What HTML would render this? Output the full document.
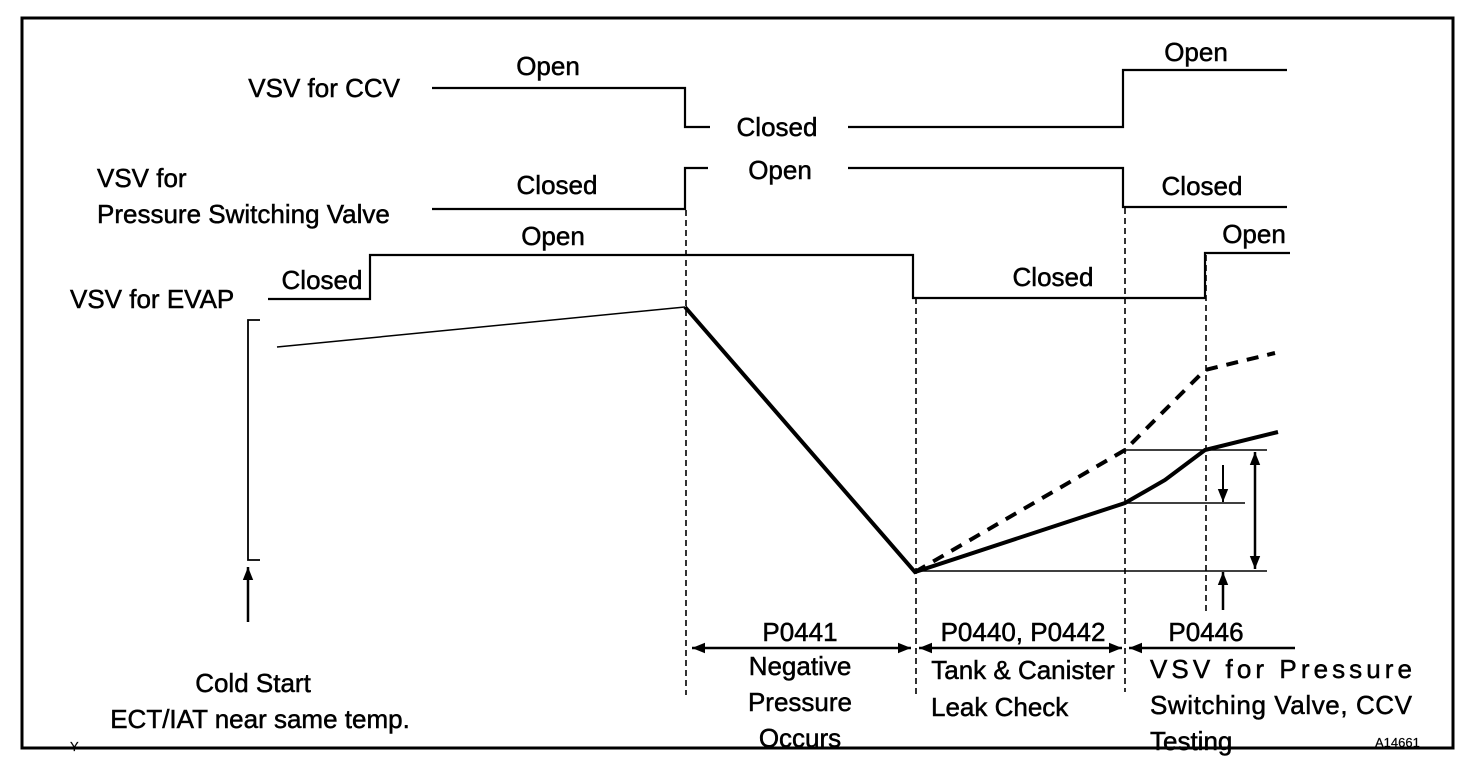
<!DOCTYPE html>
<html><head><meta charset="utf-8"><style>
html,body{margin:0;padding:0;background:#fff}
svg{display:block}
text{font-family:"Liberation Sans",Arial,sans-serif;font-size:26px;fill:#000;stroke:#000;stroke-width:0.5}
</style></head><body>
<svg width="1472" height="766" viewBox="0 0 1472 766" xmlns="http://www.w3.org/2000/svg">
<defs>
<marker id="ahb" viewBox="0 0 10 10" refX="10" refY="5" markerWidth="18" markerHeight="13" markerUnits="userSpaceOnUse" orient="auto-start-reverse"><path d="M0,1 L10,5 L0,9 z" fill="#000"/></marker>
</defs>
<rect x="22" y="18" width="1431" height="730" fill="none" stroke="#000" stroke-width="3"/>
<g fill="none" stroke="#000" stroke-width="2.2">
<polyline points="432,88 685,88 685,127 710,127"/>
<polyline points="848,127 1123,127 1123,70 1287,70"/>
<polyline points="432,209 685,209 685,168 708,168"/>
<polyline points="848,168 1123,168 1123,207 1287,207"/>
<polyline points="268,299 370,299 370,255 913,255 913,298 1205,298 1205,253 1290,253"/>
<polyline points="260,320 248,320 248,560 260,560" stroke-width="1.8"/>
<line x1="277" y1="347" x2="685" y2="307" stroke-width="1.5"/>
<polyline points="685,307 915,572 1125,503 1165,480 1205,450 1278,432" stroke-width="4"/>
<polyline points="915,572 1125,450 1205,370 1275,353" stroke-width="4" stroke-dasharray="12,9"/>
<line x1="915" y1="571" x2="1267" y2="571" stroke-width="1.5"/>
<line x1="1125" y1="450" x2="1267" y2="450" stroke-width="1.5"/>
<line x1="1125" y1="503" x2="1245" y2="503" stroke-width="1.5"/>
<g stroke-width="1.6" stroke-dasharray="6,4">
<line x1="686" y1="210" x2="686" y2="695"/>
<line x1="916" y1="298" x2="916" y2="695"/>
<line x1="1125" y1="208" x2="1125" y2="692"/>
<line x1="1206" y1="255" x2="1206" y2="615"/>
</g>
<line x1="1223" y1="465" x2="1223" y2="502" stroke-width="2" marker-end="url(#ahb)"/>
<line x1="1255" y1="452" x2="1255" y2="569" stroke-width="2.5" marker-start="url(#ahb)" marker-end="url(#ahb)"/>
<line x1="1223" y1="610" x2="1223" y2="572" stroke-width="2.5" marker-end="url(#ahb)"/>
<line x1="248" y1="622" x2="248" y2="567" stroke-width="2.5" marker-end="url(#ahb)"/>
<line x1="692" y1="648" x2="911" y2="648" stroke-width="2.5" marker-start="url(#ahb)" marker-end="url(#ahb)"/>
<line x1="919" y1="648" x2="1122" y2="648" stroke-width="2.5" marker-start="url(#ahb)" marker-end="url(#ahb)"/>
<line x1="1129" y1="648" x2="1295" y2="648" stroke-width="2.5" marker-start="url(#ahb)"/>
</g>
<text x="548" y="75" text-anchor="middle">Open</text>
<text x="777" y="136" text-anchor="middle">Closed</text>
<text x="780" y="179" text-anchor="middle">Open</text>
<text x="557" y="194" text-anchor="middle">Closed</text>
<text x="553" y="245" text-anchor="middle">Open</text>
<text x="322" y="289" text-anchor="middle">Closed</text>
<text x="1053" y="286" text-anchor="middle">Closed</text>
<text x="1196" y="61" text-anchor="middle">Open</text>
<text x="1202" y="195" text-anchor="middle">Closed</text>
<text x="1254" y="243" text-anchor="middle">Open</text>
<text x="400" y="97" text-anchor="end">VSV for CCV</text>
<text x="97" y="187">VSV for</text>
<text x="97" y="223">Pressure Switching Valve</text>
<text x="70" y="308">VSV for EVAP</text>
<text x="800" y="641" text-anchor="middle">P0441</text>
<text x="800" y="675" text-anchor="middle">Negative</text>
<text x="800" y="711" text-anchor="middle">Pressure</text>
<text x="800" y="747" text-anchor="middle">Occurs</text>
<text x="1023" y="641" text-anchor="middle">P0440, P0442</text>
<text x="1023" y="679" text-anchor="middle">Tank &amp; Canister</text>
<text x="931" y="716">Leak Check</text>
<text x="1206" y="641" text-anchor="middle">P0446</text>
<text x="1150" y="678" textLength="262" lengthAdjust="spacing">VSV for Pressure</text>
<text x="1150" y="714" textLength="262">Switching Valve, CCV</text>
<text x="1150" y="750">Testing</text>
<text x="253" y="692" text-anchor="middle">Cold Start</text>
<text x="260" y="728" text-anchor="middle">ECT/IAT near same temp.</text>
<text x="70" y="751" style="font-size:13px;stroke-width:0.2">Y</text>
<text x="1375" y="747" style="font-size:13px;stroke-width:0.2">A14661</text>
</svg>
</body></html>
